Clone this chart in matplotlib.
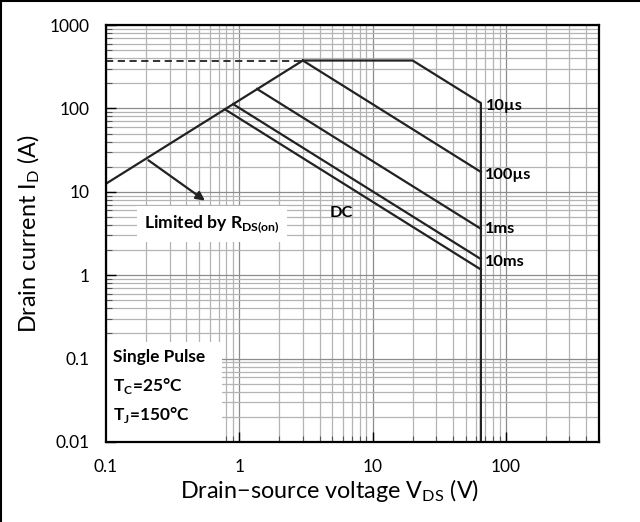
import matplotlib
matplotlib.use("Agg")
import matplotlib.pyplot as plt
from matplotlib.lines import Line2D
from matplotlib.patches import Rectangle
from matplotlib.ticker import FixedLocator, LogLocator, NullFormatter

plt.rcParams['font.family'] = ['Lato', 'DejaVu Sans']
plt.rcParams['mathtext.fontset'] = 'custom'
plt.rcParams['mathtext.rm'] = 'Lato'
plt.rcParams['mathtext.bf'] = 'Lato:bold'

# safe operating area boundaries (V, A)
rds_v = [0.1, 3.0]
rds_i = [12.5, 375]
dash_v = [0.1, 3.0]
dash_i = [375, 375]
us10_v = [3.0, 20, 65, 65]
us10_i = [375, 375, 116, 0.01]
us100_v = [3.0, 65]
us100_i = [375, 17.3]
ms1_v = [1.36, 65]
ms1_i = [171, 3.6]
ms10_v = [0.9, 65]
ms10_i = [112.5, 1.56]
dc_v = [0.78, 65]
dc_i = [97.5, 1.17]

curve_labels = ["10µs", "100µs", "1ms", "10ms"]
label_v = [71, 70, 70, 70]
label_i = [108, 16, 3.6, 1.45]

x_ticks = [0.1, 1, 10, 100]
x_tick_labels = ["0.1", "1", "10", "100"]
y_ticks = [0.01, 0.1, 1, 10, 100, 1000]
y_tick_labels = ["0.01", "0.1", "1", "10", "100", "1000"]

fig = plt.figure(figsize=(6.4, 5.22), dpi=100)
ax = fig.add_axes([0.1656, 0.1533, 0.7703, 0.7988])
ax.set_xscale("log")
ax.set_yscale("log")
ax.set_xlim(0.1, 500)
ax.set_ylim(0.01, 1000)

ax.set_axisbelow(True)
ax.xaxis.set_minor_locator(LogLocator(base=10, subs=range(2, 10)))
ax.yaxis.set_minor_locator(LogLocator(base=10, subs=range(2, 10)))
ax.xaxis.set_minor_formatter(NullFormatter())
ax.yaxis.set_minor_formatter(NullFormatter())
ax.xaxis.set_major_locator(FixedLocator(x_ticks))
ax.yaxis.set_major_locator(FixedLocator(y_ticks))
ax.set_xticklabels(x_tick_labels)
ax.set_yticklabels(y_tick_labels)
ax.grid(True, which="major", color="#8c8c8c", lw=0.9)
ax.grid(True, which="minor", color="#b4b4b4", lw=0.9)
ax.tick_params(which="major", direction="in", length=7, width=1, labelsize=12.5, pad=12, color="black")
ax.tick_params(which="minor", direction="in", length=4, width=0.8, color="#555555")
for s in ax.spines.values():
    s.set_linewidth(1.6)

lw = 1.6
ax.plot(rds_v, rds_i, color="#222222", lw=lw)
ax.plot(dash_v, dash_i, color="#222222", lw=1.3, ls=(0, (4, 2.5)))
ax.plot(us10_v, us10_i, color="#222222", lw=lw)
ax.plot(us100_v, us100_i, color="#222222", lw=lw)
ax.plot(ms1_v, ms1_i, color="#222222", lw=lw)
ax.plot(ms10_v, ms10_i, color="#222222", lw=lw)
ax.plot(dc_v, dc_i, color="#222222", lw=lw)

for txt, v, i in zip(curve_labels, label_v, label_i):
    ax.text(v, i, txt, fontsize=11.8, fontweight="bold", ha="left", va="center")
ax.text(5.8, 5.6, "DC", fontsize=11.8, fontweight="bold", ha="center", va="center")

ax.annotate("", xy=(0.575, 7.5), xytext=(0.2, 25),
            arrowprops=dict(arrowstyle="-|>", color="#222222", lw=1.6, mutation_scale=13))
ax.text(0.625, 4.1, r"Limited by R$_{\mathbf{DS(on)}}$", fontsize=12.6, fontweight="bold",
        ha="center", va="center", zorder=4,
        bbox=dict(facecolor="white", edgecolor="none", pad=5))

ax.add_patch(Rectangle((0, 0), 0.235, 0.24, transform=ax.transAxes,
                       facecolor="white", edgecolor="none", zorder=1))
ax.text(0.014, 0.204, "Single Pulse", transform=ax.transAxes, fontsize=12.4,
        fontweight="bold", va="center")
ax.text(0.014, 0.134, r"T$_{\mathbf{C}}$=25°C", transform=ax.transAxes, fontsize=12.4,
        fontweight="bold", va="center")
ax.text(0.014, 0.065, r"T$_{\mathbf{J}}$=150°C", transform=ax.transAxes, fontsize=12.4,
        fontweight="bold", va="center")

ax.set_xlabel("Drain\u2212source voltage V$_{\\mathregular{DS}}$ (V)", fontsize=16.8)
ax.set_ylabel("Drain current I$_{\\mathregular{D}}$ (A)", fontsize=16.8)
ax.xaxis.set_label_coords(0.454, -0.085)
ax.yaxis.set_label_coords(-0.13, 0.5)

fig.add_artist(Line2D([0.0015, 0.0015], [0, 0.998], transform=fig.transFigure, color="black", lw=1.5))
fig.add_artist(Line2D([0.0015, 1], [0.998, 0.998], transform=fig.transFigure, color="black", lw=1.5))

fig.savefig("out.png", dpi=100)
